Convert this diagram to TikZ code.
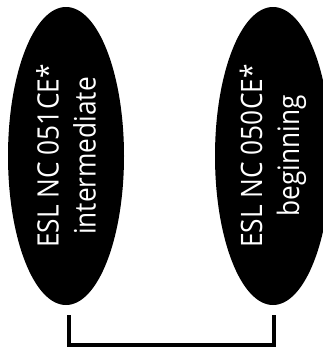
\documentclass[tikz,border=0pt]{standalone}
\usepackage{fontspec}
\setmainfont[FakeStretch=0.89]{Open Sans}
\usetikzlibrary{shapes.geometric}
\begin{document}
\begin{tikzpicture}[x=1pt,y=-1pt,
  course/.style={ellipse, fill=black, text=white, inner sep=0pt,
    minimum width=298pt, minimum height=116pt, rotate=90, align=center,
    font=\fontsize{29.5}{37}\selectfont},
  bracket/.style={line width=4pt, draw=black}]
\useasboundingbox (0,0) rectangle (323,348);
\clip (0,0) rectangle (323,348);
\node[course] (left) at (66,156) {ESL NC 051CE*\\intermediate};
\node[course] (right) at (273,156) {ESL NC 050CE*\\beginning};
\coordinate (la) at (68.7,315);
\coordinate (ra) at (274.3,315);
\draw[bracket] (la) -- ++(0,30) -| (ra);
\end{tikzpicture}
\end{document}
